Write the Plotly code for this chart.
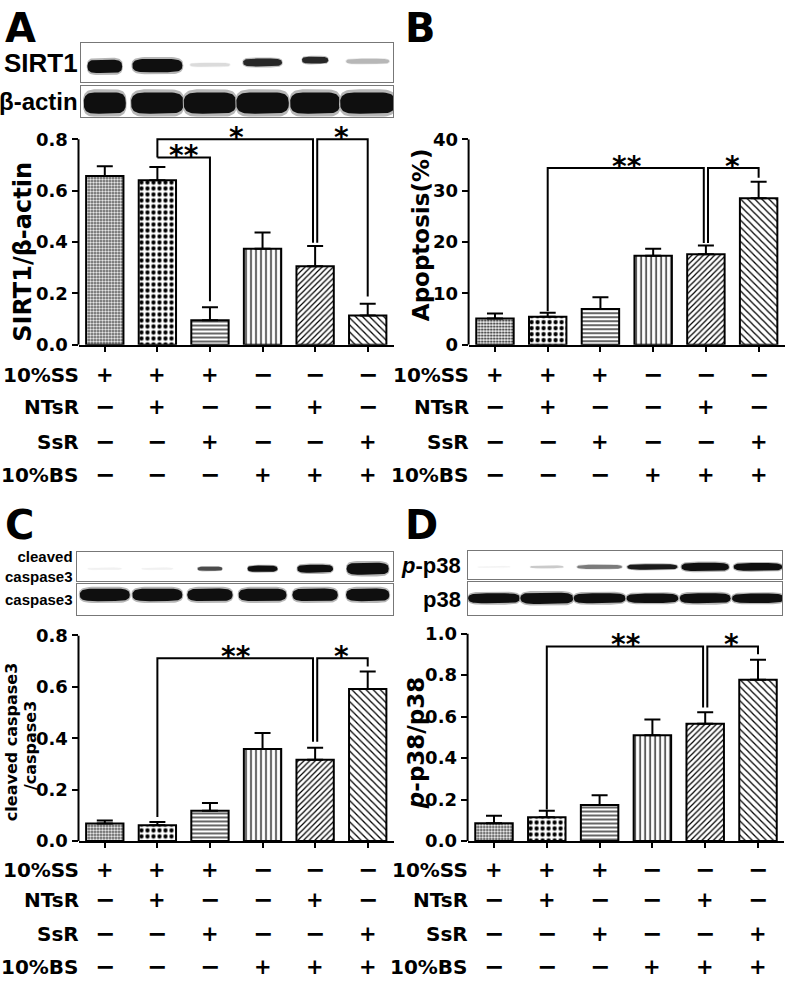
import numpy as np
import plotly.graph_objects as go

W, H = 787, 990

# ---------------- data ----------------
groups = [0, 1, 2, 3, 4, 5]
cond_names = ["10%SS", "NTsR", "SsR", "10%BS"]
cond_10SS = ["+", "+", "+", "−", "−", "−"]
cond_NTsR = ["−", "+", "−", "−", "+", "−"]
cond_SsR = ["−", "−", "+", "−", "−", "+"]
cond_10BS = ["−", "−", "−", "+", "+", "+"]
cond_rows = [cond_10SS, cond_NTsR, cond_SsR, cond_10BS]

sirt1_mean = [0.657, 0.640, 0.095, 0.374, 0.306, 0.114]
sirt1_err = [0.038, 0.052, 0.051, 0.063, 0.078, 0.046]
apop_mean = [5.1, 5.45, 6.97, 17.3, 17.6, 28.5]
apop_err = [1.0, 0.8, 2.3, 1.4, 1.7, 3.2]
casp_mean = [0.068, 0.061, 0.118, 0.358, 0.316, 0.592]
casp_err = [0.012, 0.013, 0.030, 0.062, 0.047, 0.068]
p38_mean = [0.086, 0.115, 0.173, 0.510, 0.565, 0.777]
p38_err = [0.036, 0.031, 0.047, 0.076, 0.055, 0.097]

ticks_A = [0.0, 0.2, 0.4, 0.6, 0.8]
ticks_B = [0, 10, 20, 30, 40]
ticks_C = [0.0, 0.2, 0.4, 0.6, 0.8]
ticks_D = [0.0, 0.2, 0.4, 0.6, 0.8, 1.0]

# significance brackets: (left group, right group, level, left leg end, right leg end, label)
sig_A = [(1, 2, 0.729, 0.729, 0.169, "**"), (1, 4, 0.80, 0.729, 0.397, "*"), (4, 5, 0.80, 0.397, 0.188, "*")]
sig_B = [(1, 4, 34.4, 6.5, 19.8, "**"), (4, 5, 34.4, 19.8, 32.5, "*")]
sig_C = [(1, 4, 0.711, 0.093, 0.386, "**"), (4, 5, 0.711, 0.386, 0.679, "*")]
sig_D = [(1, 4, 0.937, 0.152, 0.644, "**"), (4, 5, 0.937, 0.644, 0.90, "*")]

# western blot band intensities (0 = none, 1 = saturated)
blot_SIRT1 = [1.0, 1.0, 0.15, 0.9, 0.9, 0.3]
blot_bactin = [1.0, 1.0, 1.0, 1.0, 1.0, 1.0]
blot_cleaved = [0.06, 0.06, 0.75, 1.0, 1.0, 1.0]
blot_casp3 = [1.0, 1.0, 1.0, 1.0, 1.0, 1.0]
blot_pp38 = [0.05, 0.22, 0.55, 0.95, 1.0, 1.0]
blot_p38 = [1.0, 1.0, 1.0, 1.0, 1.0, 1.0]

# ---------------- styles ----------------
FONT = "DejaVu Sans"
ARIAL = "Liberation Sans"
bar_patterns = [".", ".", "-", "|", "/", "\\"]
pattern_size = [3, 6, 4, 5, 4, 5]
pattern_solid = [0.4, 0.4, 0.3, 0.25, 0.3, 0.25]


def xid(n):
    return "x" if n == 1 else f"x{n}"


def yid(n):
    return "y" if n == 1 else f"y{n}"


def pxx(px):
    return px / W


def pxy(py):
    return 1 - py / H


panels = [
    dict(n=1, x0=78.5, x1=394.0, yz=341, yt=131, tv=0.8, rt=0.83, ticks=ticks_A, fmt=".1f",
         mean=sirt1_mean, err=sirt1_err, sig=sig_A, letter="A", lx=3, ly=17,
         title=[("SIRT1/β-actin", 24, 23, 246)]),
    dict(n=2, x0=468.6, x1=785.0, yz=341, yt=131, tv=40, rt=40, ticks=ticks_B, fmt="d",
         mean=apop_mean, err=apop_err, sig=sig_B, letter="B", lx=403, ly=17,
         title=[("Apoptosis(%)", 23, 421, 228)]),
    dict(n=3, x0=78.5, x1=394.0, yz=848, yt=638, tv=0.8, rt=0.8, ticks=ticks_C, fmt=".1f",
         mean=casp_mean, err=casp_err, sig=sig_C, letter="C", lx=3, ly=525,
         title=[("cleaved caspase3", 16, 11, 747), ("/caspase3", 16, 30, 751)]),
    dict(n=4, x0=467.6, x1=784.4, yz=848, yt=636, tv=1.0, rt=1.0, ticks=ticks_D, fmt=".1f",
         mean=p38_mean, err=p38_err, sig=sig_D, letter="D", lx=403, ly=525,
         title=[("<i>p</i>-p38/p38", 23, 416, 748)]),
]
row_y = {341: [372, 405, 440, 474], 848: [878, 908, 943, 977]}

fig = go.Figure()
layout = dict(width=W, height=H, margin=dict(l=0, r=0, t=0, b=0),
              paper_bgcolor="white", plot_bgcolor="white", showlegend=False)
annotations = []
shapes = []

for p in panels:
    n = p["n"]
    pxu = (p["yz"] - p["yt"]) / p["tv"]
    top_px = p["yz"] - p["rt"] * pxu
    layout["xaxis" if n == 1 else f"xaxis{n}"] = dict(
        domain=[pxx(p["x0"]), pxx(p["x1"])], range=[-0.5, 5.5], anchor=yid(n),
        showline=True, linewidth=2, linecolor="black", ticks="outside", ticklen=5,
        tickwidth=2, tickcolor="black", tickvals=groups, showticklabels=False,
        showgrid=False, zeroline=False, fixedrange=True)
    layout["yaxis" if n == 1 else f"yaxis{n}"] = dict(
        domain=[pxy(p["yz"]), pxy(top_px)], range=[0, p["rt"]], anchor=xid(n),
        showline=False, ticks="outside", ticklen=6, tickwidth=2, tickcolor="black",
        tickvals=p["ticks"], tickformat=p["fmt"],
        tickfont=dict(family=FONT, size=18, color="black", weight="bold"),
        showgrid=False, zeroline=False, fixedrange=True)
    shapes.append(dict(type="line", xref=xid(n) + " domain", yref=yid(n), x0=0, x1=0,
                       y0=0, y1=p["tv"], line=dict(color="black", width=2)))

    fig.add_trace(go.Bar(
        x=groups, y=p["mean"], width=0.71, xaxis=xid(n), yaxis=yid(n),
        marker=dict(color="white", line=dict(color="black", width=2),
                    pattern=dict(shape=bar_patterns, size=pattern_size,
                                 solidity=pattern_solid, fgcolor="black",
                                 bgcolor="white", fillmode="replace")),
        error_y=dict(type="data", symmetric=False, array=p["err"],
                     arrayminus=[0] * 6, color="black", thickness=2, width=8),
        hoverinfo="skip", showlegend=False))

    # significance brackets
    lefts = [s[0] for s in p["sig"]]
    rights = [s[1] for s in p["sig"]]
    d = 0.04
    for (i, j, lvl, lb, rb, lab) in p["sig"]:
        xi = i + (d if i in rights else 0)
        xj = j - (d if j in lefts else 0)
        shapes.append(dict(type="path", xref=xid(n), yref=yid(n),
                           path=f"M {xi},{lb} L {xi},{lvl} L {xj},{lvl} L {xj},{rb}",
                           line=dict(color="black", width=2)))
        annotations.append(dict(x=(i + j) / 2, y=lvl, xref=xid(n), yref=yid(n),
                                text=lab, showarrow=False, yanchor="middle", yshift=2,
                                font=dict(family=FONT, size=28, color="black", weight="bold")))

    # condition table
    for r, (name, row) in enumerate(zip(cond_names, cond_rows)):
        yy = pxy(row_y[p["yz"]][r])
        annotations.append(dict(x=pxx(p["x0"] + 2), y=yy, xref="paper", yref="paper",
                                text=name, showarrow=False, xanchor="right", yanchor="middle",
                                font=dict(family=FONT, size=20, color="black", weight="bold")))
        for g, s in zip(groups, row):
            annotations.append(dict(x=g, y=yy, xref=xid(n), yref="paper", text=s,
                                    showarrow=False, xanchor="center", yanchor="middle",
                                    font=dict(family=FONT, size=21 if s == "+" else 24,
                                              color="black", weight="bold")))

    # y titles
    for (txt, sz, cx, cy) in p["title"]:
        annotations.append(dict(x=pxx(cx), y=pxy(cy), xref="paper", yref="paper", text=txt,
                                textangle=-90, showarrow=False, xanchor="center", yanchor="middle",
                                font=dict(family=FONT, size=sz, color="black", weight="bold")))
    # panel letter
    annotations.append(dict(x=pxx(p["lx"]), y=pxy(p["ly"]), xref="paper", yref="paper",
                            text=p["letter"], showarrow=False, xanchor="left", yanchor="middle",
                            font=dict(family=FONT, size=40, color="black", weight="bold")))

# ---------------- western blots ----------------
blots = [
    dict(n=5, parent=panels[0], inten=blot_SIRT1, box=(81, 393, 33, 73),
         w=[0.66, 0.95, 0.76, 0.74, 0.5, 0.82], t=[0.34, 0.34, 0.1, 0.2, 0.17, 0.13],
         yc=[0.41, 0.43, 0.45, 0.51, 0.57, 0.54],
         labels=[("SIRT1", 26, 53, ARIAL, 80)]),
    dict(n=6, parent=panels[0], inten=blot_bactin, box=(81, 393, 77, 108),
         w=[0.8, 1.0, 1.0, 1.0, 0.95, 1.05], t=[0.7] * 6, yc=[0.45] * 6,
         labels=[("β-actin", 24, 92, ARIAL, 80)]),
    dict(n=7, parent=panels[2], inten=blot_cleaved, box=(77, 393, 553, 582),
         w=[0.65, 0.6, 0.47, 0.57, 0.68, 0.8], t=[0.08, 0.08, 0.15, 0.22, 0.28, 0.42],
         yc=[0.42] * 6,
         labels=[("cleaved<br>caspase3", 15, 568, ARIAL, 75)]),
    dict(n=8, parent=panels[2], inten=blot_casp3, box=(77, 393, 585, 617),
         w=[0.95, 0.95, 0.86, 0.91, 0.86, 0.82], t=[0.4] * 6, yc=[0.64] * 6,
         labels=[("caspase3", 15, 601, ARIAL, 75)]),
    dict(n=9, parent=panels[3], inten=blot_pp38, box=(468, 782, 552, 580),
         w=[0.62, 0.63, 0.85, 0.95, 0.9, 0.92], t=[0.07, 0.1, 0.15, 0.2, 0.3, 0.28],
         yc=[0.43] * 6,
         labels=[("<i>p</i>-p38", 22, 567, ARIAL, 463)]),
    dict(n=10, parent=panels[3], inten=blot_p38, box=(468, 782, 583, 617),
         w=[0.98, 1.0, 0.98, 0.98, 0.96, 0.98], t=[0.3, 0.34, 0.3, 0.28, 0.3, 0.28],
         yc=[0.5] * 6,
         labels=[("p38", 22, 601, ARIAL, 463)]),
]

theta = np.linspace(0, 2 * np.pi, 60)
ct, st = np.cos(theta), np.sin(theta)
for b in blots:
    n = b["n"]
    par = b["parent"]
    cw = (par["x1"] - par["x0"]) / 6.0
    bx0, bx1, byt, byb = b["box"]
    r0 = (bx0 - par["x0"]) / cw - 0.5
    r1 = (bx1 - par["x0"]) / cw - 0.5
    layout[f"xaxis{n}"] = dict(domain=[pxx(bx0), pxx(bx1)], range=[r0, r1], anchor=f"y{n}",
                               showline=True, mirror=True, linecolor="#777", linewidth=1,
                               showticklabels=False, ticks="", showgrid=False,
                               zeroline=False, fixedrange=True)
    layout[f"yaxis{n}"] = dict(domain=[pxy(byb), pxy(byt)], range=[0, 1], anchor=f"x{n}",
                               showline=True, mirror=True, linecolor="#777", linewidth=1,
                               showticklabels=False, ticks="", showgrid=False,
                               zeroline=False, fixedrange=True)
    for g, it, w, t, yc in zip(groups, b["inten"], b["w"], b["t"], b["yc"]):
        for scale_w, scale_t, k in [(1.04, 1.3, 0.3), (1.0, 1.0, 1.0)]:
            a = w * scale_w / 2
            hh = t * scale_t / 2
            xs = g + a * np.sign(ct) * np.abs(ct) ** 0.35
            ys = yc + hh * np.sign(st) * np.abs(st) ** 0.8
            lvl = int(round(255 * (1 - 0.94 * it * k)))
            col = f"rgb({lvl},{lvl},{lvl})"
            fig.add_trace(go.Scatter(x=xs, y=ys, xaxis=f"x{n}", yaxis=f"y{n}", mode="lines",
                                     fill="toself", fillcolor=col, line=dict(width=0, color=col),
                                     hoverinfo="skip", showlegend=False))
    for (txt, sz, cy, fam, rx) in b["labels"]:
        annotations.append(dict(x=pxx(rx), y=pxy(cy), xref="paper", yref="paper", text=txt,
                                showarrow=False, xanchor="right", yanchor="middle", align="right",
                                font=dict(family=fam, size=sz, color="black", weight="bold")))

layout["annotations"] = annotations
layout["shapes"] = shapes
fig.update_layout(**layout)
fig.write_html("out.html", config={"displayModeBar": False},
               post_script="document.body.style.margin='0';document.body.style.overflow='hidden';")
